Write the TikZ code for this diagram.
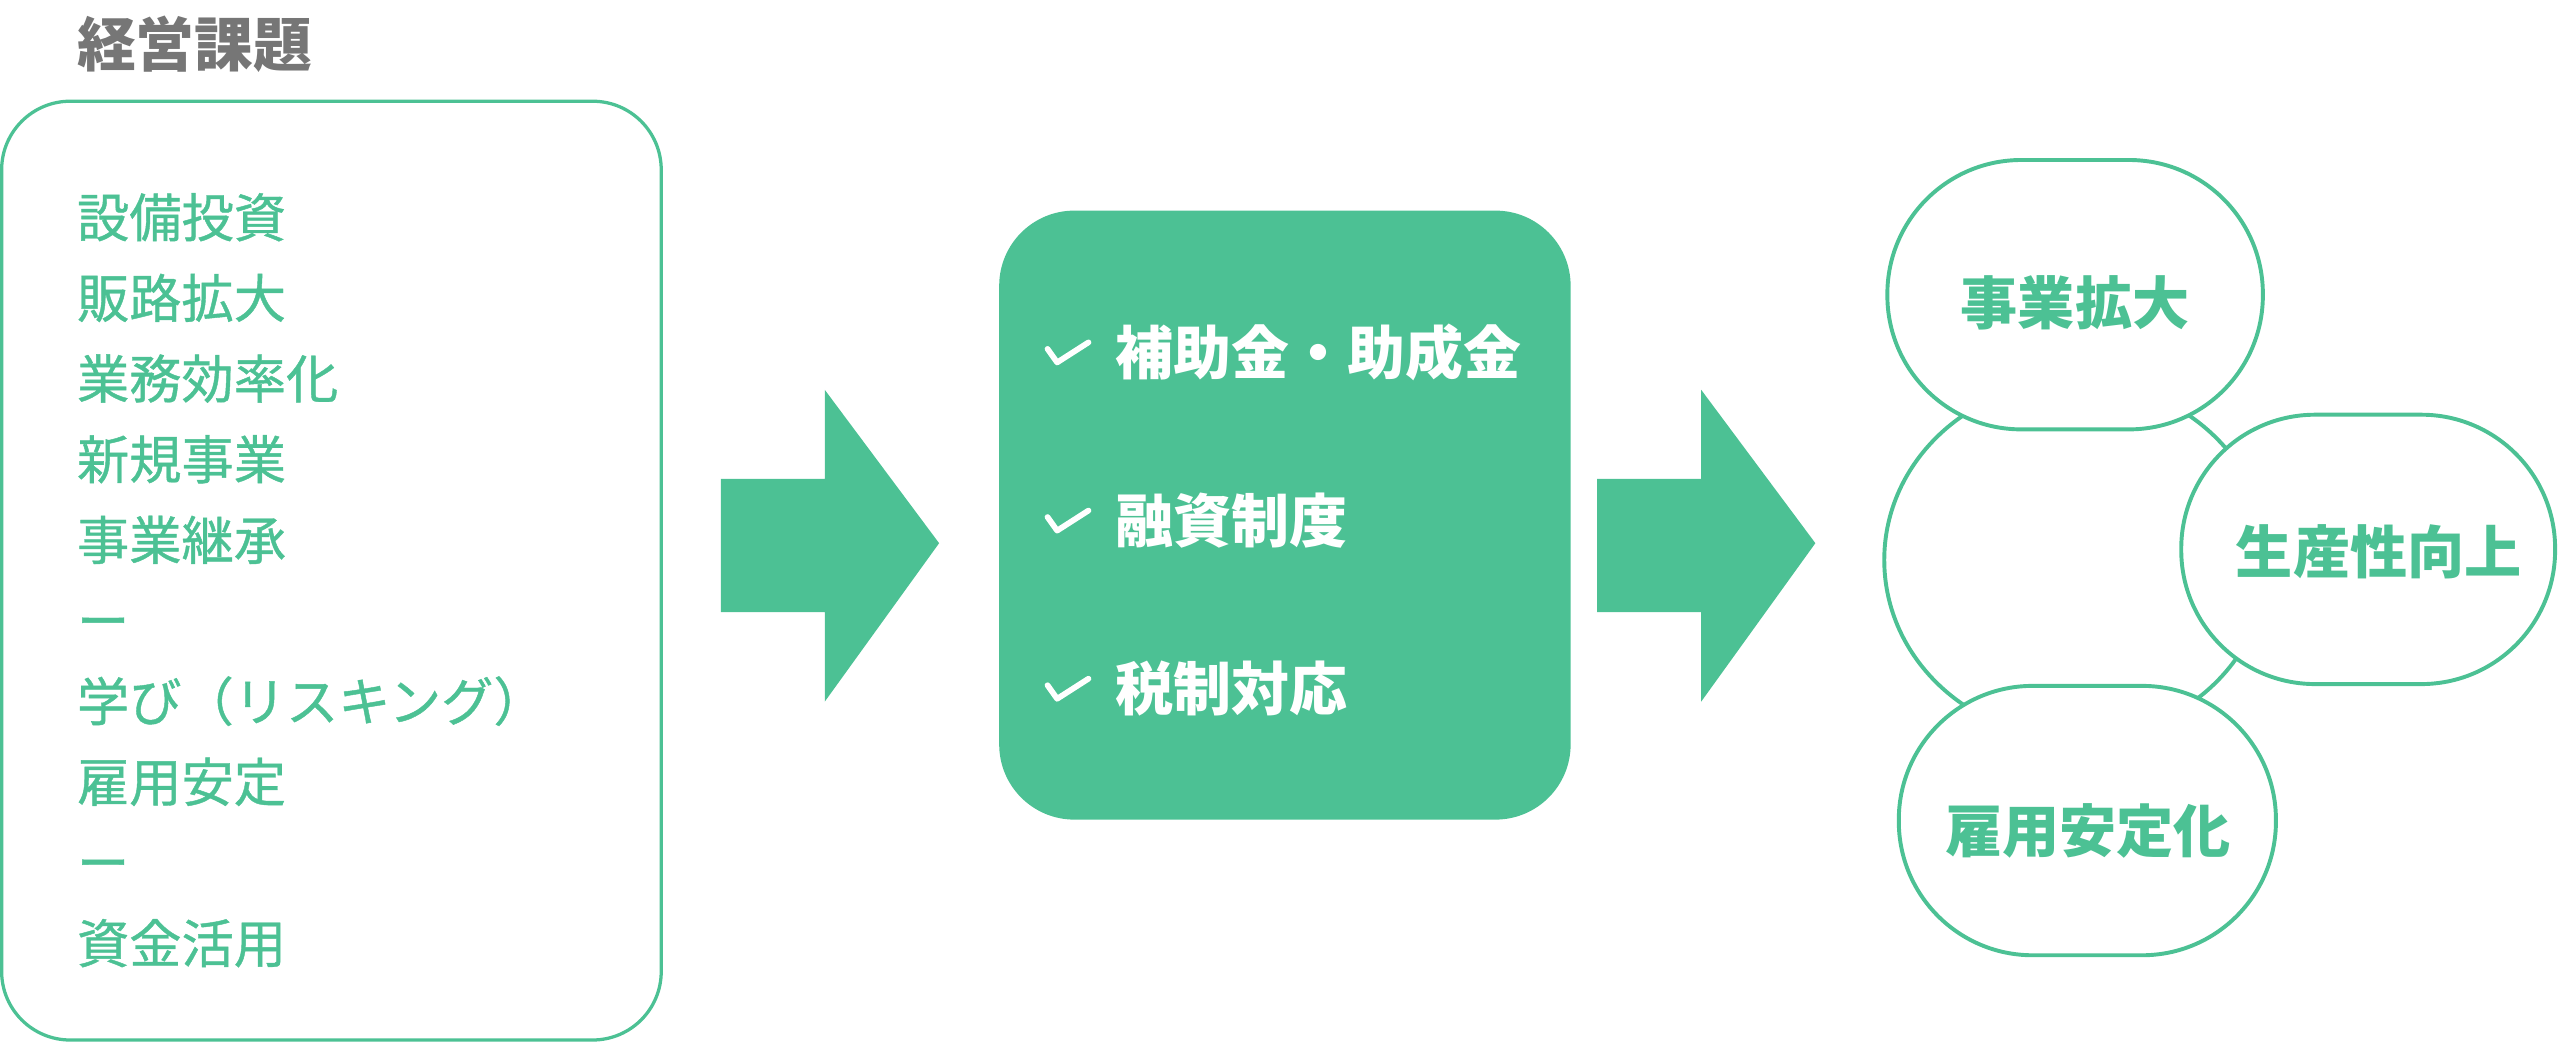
\documentclass[tikz,border=0pt]{standalone}
\usepackage{fontspec}
\setmainfont{Noto Sans CJK JP}
\newfontfamily\listfont{Noto Sans CJK JP}[FakeBold=0.8]
\usetikzlibrary{shapes.geometric}
\definecolor{brand}{RGB}{76,193,148}
\definecolor{titlegray}{RGB}{118,118,118}
\tikzset{
  titletext/.style={anchor=base west, inner sep=0pt, text=titlegray, font=\fontsize{36}{40}\selectfont\bfseries},
  listitem/.style={anchor=base west, inner sep=0pt, text=brand, font=\fontsize{32}{36}\listfont},
  supporttext/.style={anchor=base west, inner sep=0pt, text=white, font=\fontsize{35.5}{40}\selectfont\bfseries},
  goaltext/.style={anchor=base, inner sep=0pt, text=brand, font=\fontsize{35}{40}\selectfont\bfseries},
  issuebox/.style={draw=brand, line width=2pt, rounded corners=42pt, inner sep=0pt},
  supportbox/.style={fill=brand, rounded corners=46pt, inner sep=0pt},
  stadium/.style={draw=brand, fill=white, line width=2.4pt, rounded corners=82pt, inner sep=0pt, minimum height=165pt},
  hubshape/.style={draw=brand, line width=2.4pt, ellipse, inner sep=0pt},
  blockarrow/.style={fill=brand},
  checkmark/.style={draw=white, line width=3.5pt, line cap=round, line join=round}
}
\begin{document}
\begin{tikzpicture}[x=1pt,y=-1pt]
\useasboundingbox (0,0) rectangle (1568,639);

% title
\node[titletext] (title) at (47,41) {経営課題};

% left box
\node[issuebox, minimum width=404pt, minimum height=575pt] (issues) at (203,349.5) {};
\foreach \t [count=\i from 0] in {設備投資,販路拡大,業務効率化,新規事業,事業継承,ー,学び（リスキング）,雇用安定,ー,資金活用}{
  \node[listitem] (item\i) at (47,145.2+49.4*\i) {\t};
}

% arrows
\fill[blockarrow] (441.5,293.3) -- (505.2,293.3) -- (505.2,238.8) -- (575.2,332.7)
  -- (505.2,429.7) -- (505.2,375) -- (441.5,375) -- cycle;
\fill[blockarrow] (978.2,293.3) -- (1042,293.3) -- (1042,238.8) -- (1111.9,332.7)
  -- (1042,429.7) -- (1042,375) -- (978.2,375) -- cycle;

% middle box
\node[supportbox, minimum width=350pt, minimum height=373pt] (support) at (787,315.5) {};
\foreach \t/\yy [count=\i] in {補助金・助成金/216,融資制度/319,税制対応/422}{
  \coordinate (ca\i) at (641.6,\yy-2.3);
  \coordinate (cb\i) at (647.5,\yy+6);
  \coordinate (cc\i) at (666.7,\yy-6.3);
  \draw[checkmark] (ca\i) -- (cb\i) -- (cc\i);
  \node[supporttext] (sup\i) at (683,\yy+13.4) {\t};
}

% right side
\node[hubshape, minimum width=235pt, minimum height=219pt] (hub) at (1271.6,343) {};
\node[stadium, minimum width=230pt] (g1) at (1271,180.5) {};
\node[stadium, minimum width=229pt] (g2) at (1450.5,336.5) {};
\node[stadium, minimum width=231pt] (g3) at (1278.5,502.6) {};
\node[goaltext] (g1t) at (1271,198.8) {事業拡大};
\node[goaltext] (g2t) at (1457,351.3) {生産性向上};
\node[goaltext] (g3t) at (1279,522.3) {雇用安定化};
\end{tikzpicture}
\end{document}
